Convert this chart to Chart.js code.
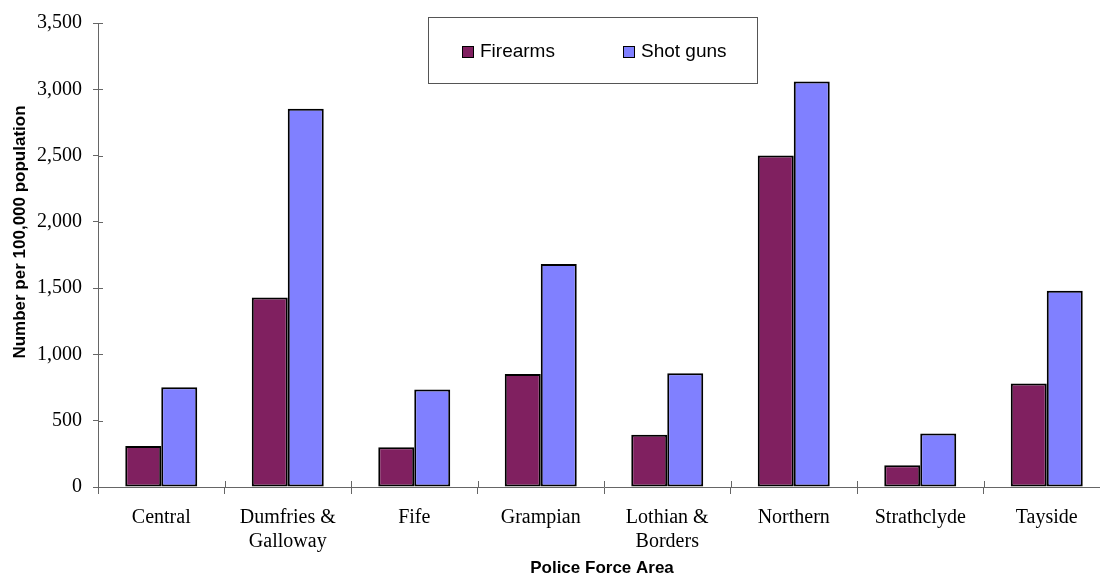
<!DOCTYPE html>
<html>
<head>
<meta charset="utf-8">
<script src="https://cdn.jsdelivr.net/npm/chart.js@4.4.1/dist/chart.umd.min.js"></script>
<style>
  html, body { margin: 0; padding: 0; background: #fff; overflow: hidden; }
  #wrap { width: 1112px; height: 577px; }
</style>
</head>
<body>
<div id="wrap"><canvas id="c" width="1112" height="577"></canvas></div>
<script>
const categories = ['Central', ['Dumfries &', 'Galloway'], 'Fife', 'Grampian', ['Lothian &', 'Borders'], 'Northern', 'Strathclyde', 'Tayside'];
const seriesNames = ['Firearms', 'Shot guns'];
const firearms = [309, 1429, 299, 852, 395, 2500, 164, 780];
const shotguns = [752, 2854, 735, 1682, 858, 3058, 403, 1481];
const yMin = 0, yMax = 3500, yStep = 500;
const yTitle = 'Number per 100,000 population';
const xTitle = 'Police Force Area';

const colors = ['#802060', '#8080FF'];

const customPlugin = {
  id: 'custom',
  afterDraw(chart) {
    const ctx = chart.ctx;
    const ca = chart.chartArea;
    const xs = chart.scales.x, ys = chart.scales.y;
    ctx.save();
    // crossing tick marks (inner part)
    ctx.strokeStyle = '#666';
    ctx.lineWidth = 1;
    ctx.beginPath();
    ys.ticks.forEach((t, i) => {
      const y = Math.round(ys.getPixelForTick(i)) + 0.5;
      ctx.moveTo(ca.left, y); ctx.lineTo(ca.left + 5, y);
    });
    const n = xs.ticks.length;
    const w = (ca.right - ca.left) / n;
    for (let i = 0; i <= n; i++) {
      const x = Math.round(ca.left + i * w) + 0.5;
      ctx.moveTo(x, ca.bottom); ctx.lineTo(x, ca.bottom - 6);
    }
    ctx.stroke();
    // Legend box
    ctx.fillStyle = '#fff';
    ctx.fillRect(428, 17, 329, 66);
    ctx.strokeStyle = '#555';
    ctx.lineWidth = 1;
    ctx.strokeRect(428.5, 17.5, 329, 66);
    const items = [{x: 462}, {x: 623}];
    ctx.font = '19px "Liberation Sans", Arial, sans-serif';
    ctx.textBaseline = 'middle';
    ctx.textAlign = 'left';
    chart.data.datasets.forEach((ds, i) => {
      const x = items[i].x;
      ctx.fillStyle = ds.backgroundColor;
      ctx.fillRect(x, 46, 12, 12);
      ctx.strokeStyle = '#000';
      ctx.lineWidth = 1;
      ctx.strokeRect(x + 0.5, 46.5, 11, 11);
      ctx.fillStyle = '#000';
      ctx.fillText(ds.label, x + 18, 52);
    });
    // Axis titles
    ctx.font = 'bold 17px "Liberation Sans", Arial, sans-serif';
    ctx.fillStyle = '#000';
    ctx.textAlign = 'center';
    ctx.textBaseline = 'middle';
    ctx.fillText(xTitle, 602, 568);
    ctx.translate(20, 232);
    ctx.rotate(-Math.PI / 2);
    ctx.fillText(yTitle, 0, 0);
    ctx.restore();
  }
};

new Chart(document.getElementById('c'), {
  type: 'bar',
  data: {
    labels: categories,
    datasets: [
      { label: seriesNames[0], data: firearms, backgroundColor: colors[0], borderColor: '#000', borderWidth: 2, borderSkipped: false },
      { label: seriesNames[1], data: shotguns, backgroundColor: colors[1], borderColor: '#000', borderWidth: 2, borderSkipped: false }
    ]
  },
  options: {
    responsive: false,
    animation: false,
    layout: { padding: { top: 23, right: 2, bottom: 0, left: 0 } },
    datasets: { bar: { categoryPercentage: 0.569, barPercentage: 1.0 } },
    plugins: { legend: { display: false }, tooltip: { enabled: false }, title: { display: false } },
    scales: {
      x: {
        offset: true,
        grid: { display: true, drawOnChartArea: false, offset: true, tickLength: 7, color: '#666' },
        border: { color: '#666', width: 1 },
        ticks: {
          color: '#000',
          font: { family: '"Liberation Serif", "Times New Roman", serif', size: 20, lineHeight: 1.2 },
          padding: 12,
          maxRotation: 0,
          autoSkip: false
        },
        afterFit(scale) { scale.height = 90; }
      },
      y: {
        min: yMin, max: yMax,
        grid: { display: true, drawOnChartArea: false, tickLength: 5, color: '#666' },
        border: { color: '#666', width: 1 },
        ticks: {
          stepSize: yStep,
          color: '#000',
          font: { family: '"Liberation Serif", "Times New Roman", serif', size: 20 },
          padding: 11,
          callback: v => v.toLocaleString('en-US')
        },
        afterFit(scale) { scale.width = 98; }
      }
    }
  },
  plugins: [customPlugin]
});
</script>
</body>
</html>
